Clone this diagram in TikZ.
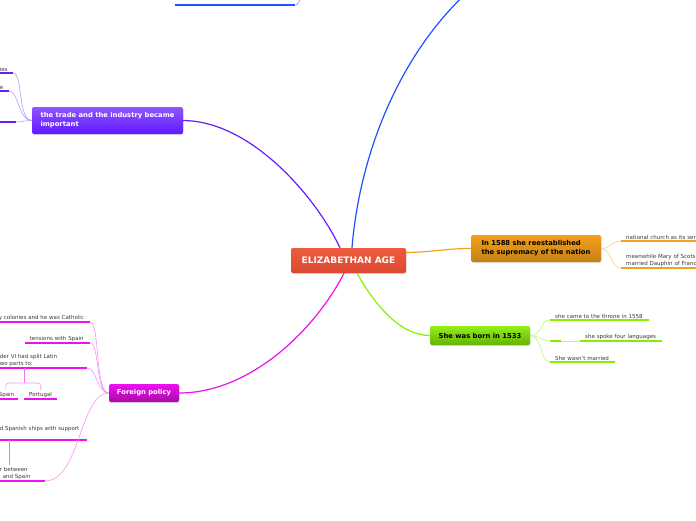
\documentclass[tikz,border=0pt]{standalone}
\usepackage{fontspec}
\setmainfont{DejaVu Sans}
\usetikzlibrary{shadows}

\definecolor{agetop}{HTML}{EE5B3F}
\definecolor{agebot}{HTML}{DA4830}
\definecolor{cblue}{HTML}{1E50FF}
\definecolor{cpurple}{HTML}{6A1CFF}
\definecolor{corange}{HTML}{F5A01A}
\definecolor{cgreen}{HTML}{88EE00}
\definecolor{cmag}{HTML}{EE10EE}
\definecolor{leaftext}{HTML}{3A3A3A}

\begin{document}
\begin{tikzpicture}[
  x=1pt,y=-1pt,
  topic/.style={rectangle,rounded corners=2pt,inner sep=0pt,align=left,
                font=\fontsize{6.8}{9}\selectfont\bfseries,
                drop shadow={shadow xshift=0.6pt,shadow yshift=-1pt,opacity=0.25}},
  leaf/.style={font=\fontsize{5.5}{7}\selectfont,text=leaftext,inner xsep=5pt,
               inner ysep=1.6pt,align=left,
               append after command={(\tikzlastnode.south west)
                 edge[draw=#1,line width=2.4pt] (\tikzlastnode.south east)}},
  branch/.style={line width=1.2pt},
  twig/.style={line width=0.6pt}
]
\useasboundingbox (0,0) rectangle (696,520);
\clip (0,0) rectangle (696,520);
\fill[white] (0,0) rectangle (696,520);

\node[topic,top color=agetop,bottom color=agebot,text=white,minimum width=115pt,
      minimum height=25pt,font=\fontsize{9}{10}\selectfont\bfseries] (age) at (348.5,260.5) {ELIZABETHAN AGE};
\node[topic,top color=cpurple!75!white,bottom color=cpurple!90!blue,text=white,
      minimum width=151pt,minimum height=27pt] (trade) at (107.5,120.5)
      {the trade and the industry became\\important};
\node[topic,top color=corange,bottom color=corange!80!black,text=black,
      minimum width=130pt,minimum height=27pt] (nation) at (536,248.5)
      {In 1588 she reestablished\\the supremacy of the nation};
\node[topic,top color=cgreen!90!white,bottom color=cgreen!75!black,text=black,
      minimum width=100pt,minimum height=19pt] (born) at (480,335.5) {She was born in 1533};
\node[topic,top color=cmag,bottom color=cmag!70!black,text=white,
      minimum width=70pt,minimum height=18pt] (foreign) at (144,393) {Foreign policy};

\node[leaf=cblue,anchor=south west,text width=110] (top) at (175,5) {};
\coordinate (blueend) at (472,-12);
\coordinate (topend) at (302,-4);

\node[leaf=cpurple,anchor=south east,text width=8] (ies) at (13,73) {ies};
\node[leaf=cpurple,anchor=south east,text width=4] (e) at (9,91) {e};
\node[leaf=cpurple,anchor=south east,text width=11] (blankp) at (16,122) {};

\node[leaf=corange,anchor=south west,text width=90] (church) at (621,241) {national church as its ser};
\node[leaf=corange,anchor=south west,text width=90] (mary) at (621,268)
      {meanwhile Mary of Scots\\married Dauphin of Franc};

\node[leaf=cgreen,anchor=south west,text width=89] (throne) at (550,320) {she came to the throne in 1558};
\node[leaf=cgreen,anchor=south west,text width=1] (blankg) at (550,341) {};
\node[leaf=cgreen,anchor=south west,text width=72] (languages) at (580,341) {she spoke four languages};
\node[leaf=cgreen,anchor=south west,text width=55] (married) at (550,362) {She wasn't married};

\node[leaf=cmag,anchor=south east,text width=86] (colonies) at (90,322) {y colonies and he was Catholic};
\node[leaf=cmag,anchor=south east,text width=55] (tensions) at (90,343) {tensions with Spain};
\node[leaf=cmag,anchor=south east,text width=82] (latin) at (87,368) {der VI had split Latin\\wo parts to:};
\node[leaf=cmag,anchor=south east,text width=14] (spain) at (18,399) {Spain};
\node[leaf=cmag,anchor=south west,text width=23] (portugal) at (24,399) {Portugal};
\node[leaf=cmag,anchor=south east,text width=82,inner ysep=8pt] (ships) at (87,440) {d Spanish ships with support};
\node[leaf=cmag,anchor=south east,text width=40] (war) at (45,481) {r between\\\hspace*{3pt}and Spain};
\coordinate (split) at (24,383);
\coordinate (stem) at (9,0);

\draw[branch,cblue] ([xshift=3.5pt]age.north) .. controls (360,150) and (402,50) .. (blueend);
\draw[branch,cpurple] ([xshift=-8.5pt]age.north) .. controls (315,195) and (250,121) .. (trade.east);
\draw[branch,corange] ([yshift=8pt]age.east) .. controls (435,252) and (445,248.5) .. (nation.west);
\draw[branch,cgreen] ([xshift=8.5pt]age.south) .. controls (375,305) and (400,335.5) .. (born.west);
\draw[branch,cmag] ([xshift=-4.5pt]age.south) .. controls (315,330) and (250,393) .. (foreign.east);

\draw[twig,cblue!60] (top.south east) .. controls +(3,0) and +(-2,3) .. (topend);

\draw[twig,cpurple!45] (trade.west) .. controls +(-14,0) and +(10,0) .. (ies.south east);
\draw[twig,cpurple!45] (trade.west) .. controls +(-14,0) and +(10,0) .. (e.south east);
\draw[twig,cpurple!45] (trade.west) .. controls +(-8,0) and +(6,0) .. (blankp.south east);

\draw[twig,corange!50] (nation.east) .. controls +(10,0) and +(-10,0) .. (church.south west);
\draw[twig,corange!50] (nation.east) .. controls +(10,0) and +(-10,0) .. (mary.south west);

\draw[twig,cgreen!55] (born.east) .. controls +(12,0) and +(-10,0) .. (throne.south west);
\draw[twig,cgreen!55] (born.east) .. controls +(10,0) and +(-8,0) .. (blankg.south west);
\draw[twig,cgreen!55] (born.east) .. controls +(12,0) and +(-10,0) .. (married.south west);
\draw[twig,cgreen!55] (blankg.south east) -- (languages.south west);

\draw[twig,cmag!45] (foreign.west) .. controls +(-14,0) and +(10,0) .. (colonies.south east);
\draw[twig,cmag!45] (foreign.west) .. controls +(-14,0) and +(10,0) .. (tensions.south east);
\draw[twig,cmag!45] (foreign.west) .. controls +(-12,0) and +(10,0) .. (latin.south east);
\draw[twig,cmag!45] (foreign.west) .. controls +(-29,0) and +(35,0) .. (war.south east);
\draw[twig,cmag!60,line width=0.9pt] (latin.south -| split) -- (split);
\draw[twig,cmag!45,rounded corners=3pt] (spain.north) |- (split) -| (portugal.north);
\draw[twig,cmag!60,line width=0.9pt] (ships.south -| stem) -- (war.north -| stem);
\end{tikzpicture}
\end{document}
